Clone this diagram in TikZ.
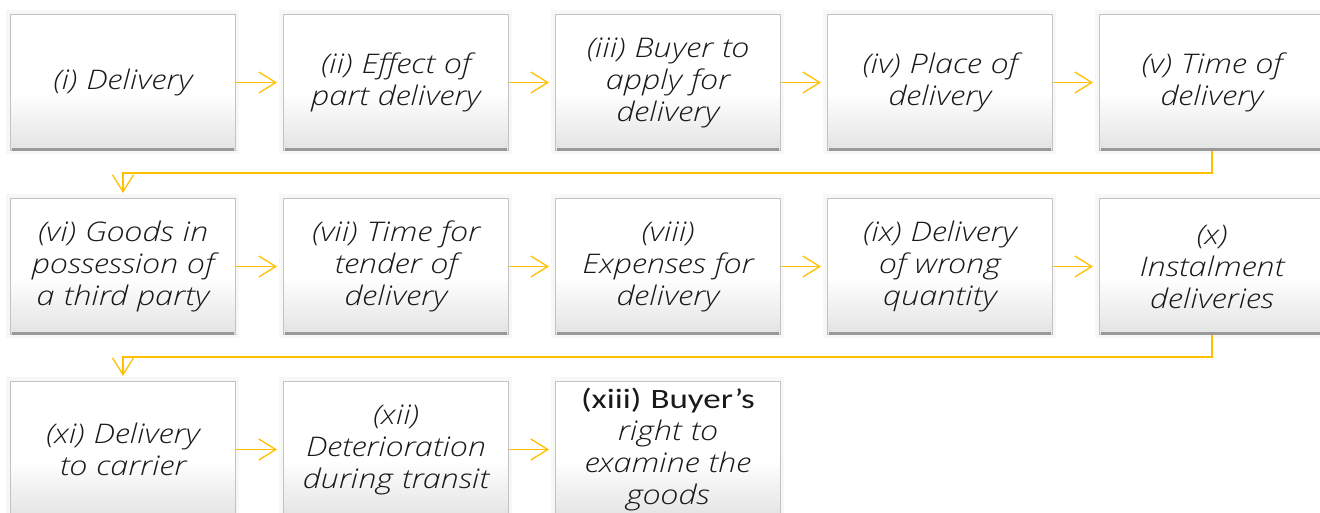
\documentclass[tikz,border=0pt]{standalone}
\usepackage{fontspec}
\setmainfont{Open Sans Light}
\newfontfamily\boxfont{Open Sans Light Italic}[FakeStretch=1.2]
\newfontfamily\upfont{Carlito}[FakeStretch=1.25]
\usetikzlibrary{arrows.meta}
\definecolor{gold}{RGB}{255,192,0}
\definecolor{txt}{RGB}{25,25,25}
\pgfdeclareverticalshading{boxshade}{100bp}{color(0bp)=(black!11); color(25bp)=(black!11); color(46bp)=(white); color(100bp)=(white)}
\tikzset{
  box/.style={anchor=north west, minimum width=225pt, minimum height=136pt,
    inner sep=0pt, text width=222pt, align=center, text=txt,
    shading=boxshade,
    draw=black!24, line width=1pt,
    font=\boxfont\fontsize{27}{32}\selectfont},
  glow/.style={fill=black!3, draw=none},
  shadowline/.style={draw=black!40, line width=3pt},
  conn/.style={draw=gold, line width=1.3pt,
    -{Straight Barb[length=17pt,width=21pt,line width=1.3pt]}, shorten >=6pt}
}
\begin{document}
\begin{tikzpicture}[x=1pt,y=-1pt]
\useasboundingbox (0,0) rectangle (1320,512);
\fill[white] (0,0) rectangle (1320,512);
% glows
\foreach \x in {10,283,555,827,1099}{
  \foreach \y in {14,198}{
    \fill[glow] (\x-4,\y-4) rectangle (\x+229,\y+140);
  }
}
\foreach \x in {10,283,555}{
  \fill[glow] (\x-4,381-4) rectangle (\x+229,381+140);
}
% row 1
\node[box] (b1) at (10,14) {(i) Delivery};
\node[box] (b2) at (283,14) {(ii) Effect of\\part delivery};
\node[box] (b3) at (555,14) {(iii) Buyer to\\apply for\\delivery};
\node[box] (b4) at (827,14) {(iv) Place of\\delivery};
\node[box] (b5) at (1099,14) {(v) Time of\\delivery};
% row 2
\node[box] (b6) at (10,198) {(vi) Goods in\\possession of\\a third party};
\node[box] (b7) at (283,198) {(vii) Time for\\tender of\\delivery};
\node[box] (b8) at (555,198) {(viii)\\Expenses for\\delivery};
\node[box] (b9) at (827,198) {(ix) Delivery\\of wrong\\quantity};
\node[box] (b10) at (1099,198) {(x)\\Instalment\\deliveries};
% row 3
\node[box] (b11) at (10,381) {(xi) Delivery\\to carrier};
\node[box] (b12) at (283,381) {(xii)\\Deterioration\\during transit};
\node[box] (b13) at (555,381) {{\upfont\fontsize{28}{32}\selectfont (xiii) Buyer’s}\\right to\\examine the\\goods};
% bottom shadows
\foreach \n in {b1,b2,b3,b4,b5,b6,b7,b8,b9,b10,b11,b12,b13}{
  \draw[shadowline] ([xshift=2pt,yshift=1.5pt]\n.south west) -- ([xshift=-2pt,yshift=1.5pt]\n.south east);
}
% connectors
\draw[conn] (b1) -- (b2);
\draw[conn] (b2) -- (b3);
\draw[conn] (b3) -- (b4);
\draw[conn] (b4) -- (b5);
\draw[conn] (b6) -- (b7);
\draw[conn] (b7) -- (b8);
\draw[conn] (b8) -- (b9);
\draw[conn] (b9) -- (b10);
\draw[conn] (b11) -- (b12);
\draw[conn] (b12) -- (b13);
\coordinate (m1) at (0,173);
\coordinate (m2) at (0,357);
\draw[conn, shorten >=5pt] (b5.south) -- (b5.south |- m1) -| (b6.north);
\draw[conn, shorten >=5pt] (b10.south) -- (b10.south |- m2) -| (b11.north);
\end{tikzpicture}
\end{document}
